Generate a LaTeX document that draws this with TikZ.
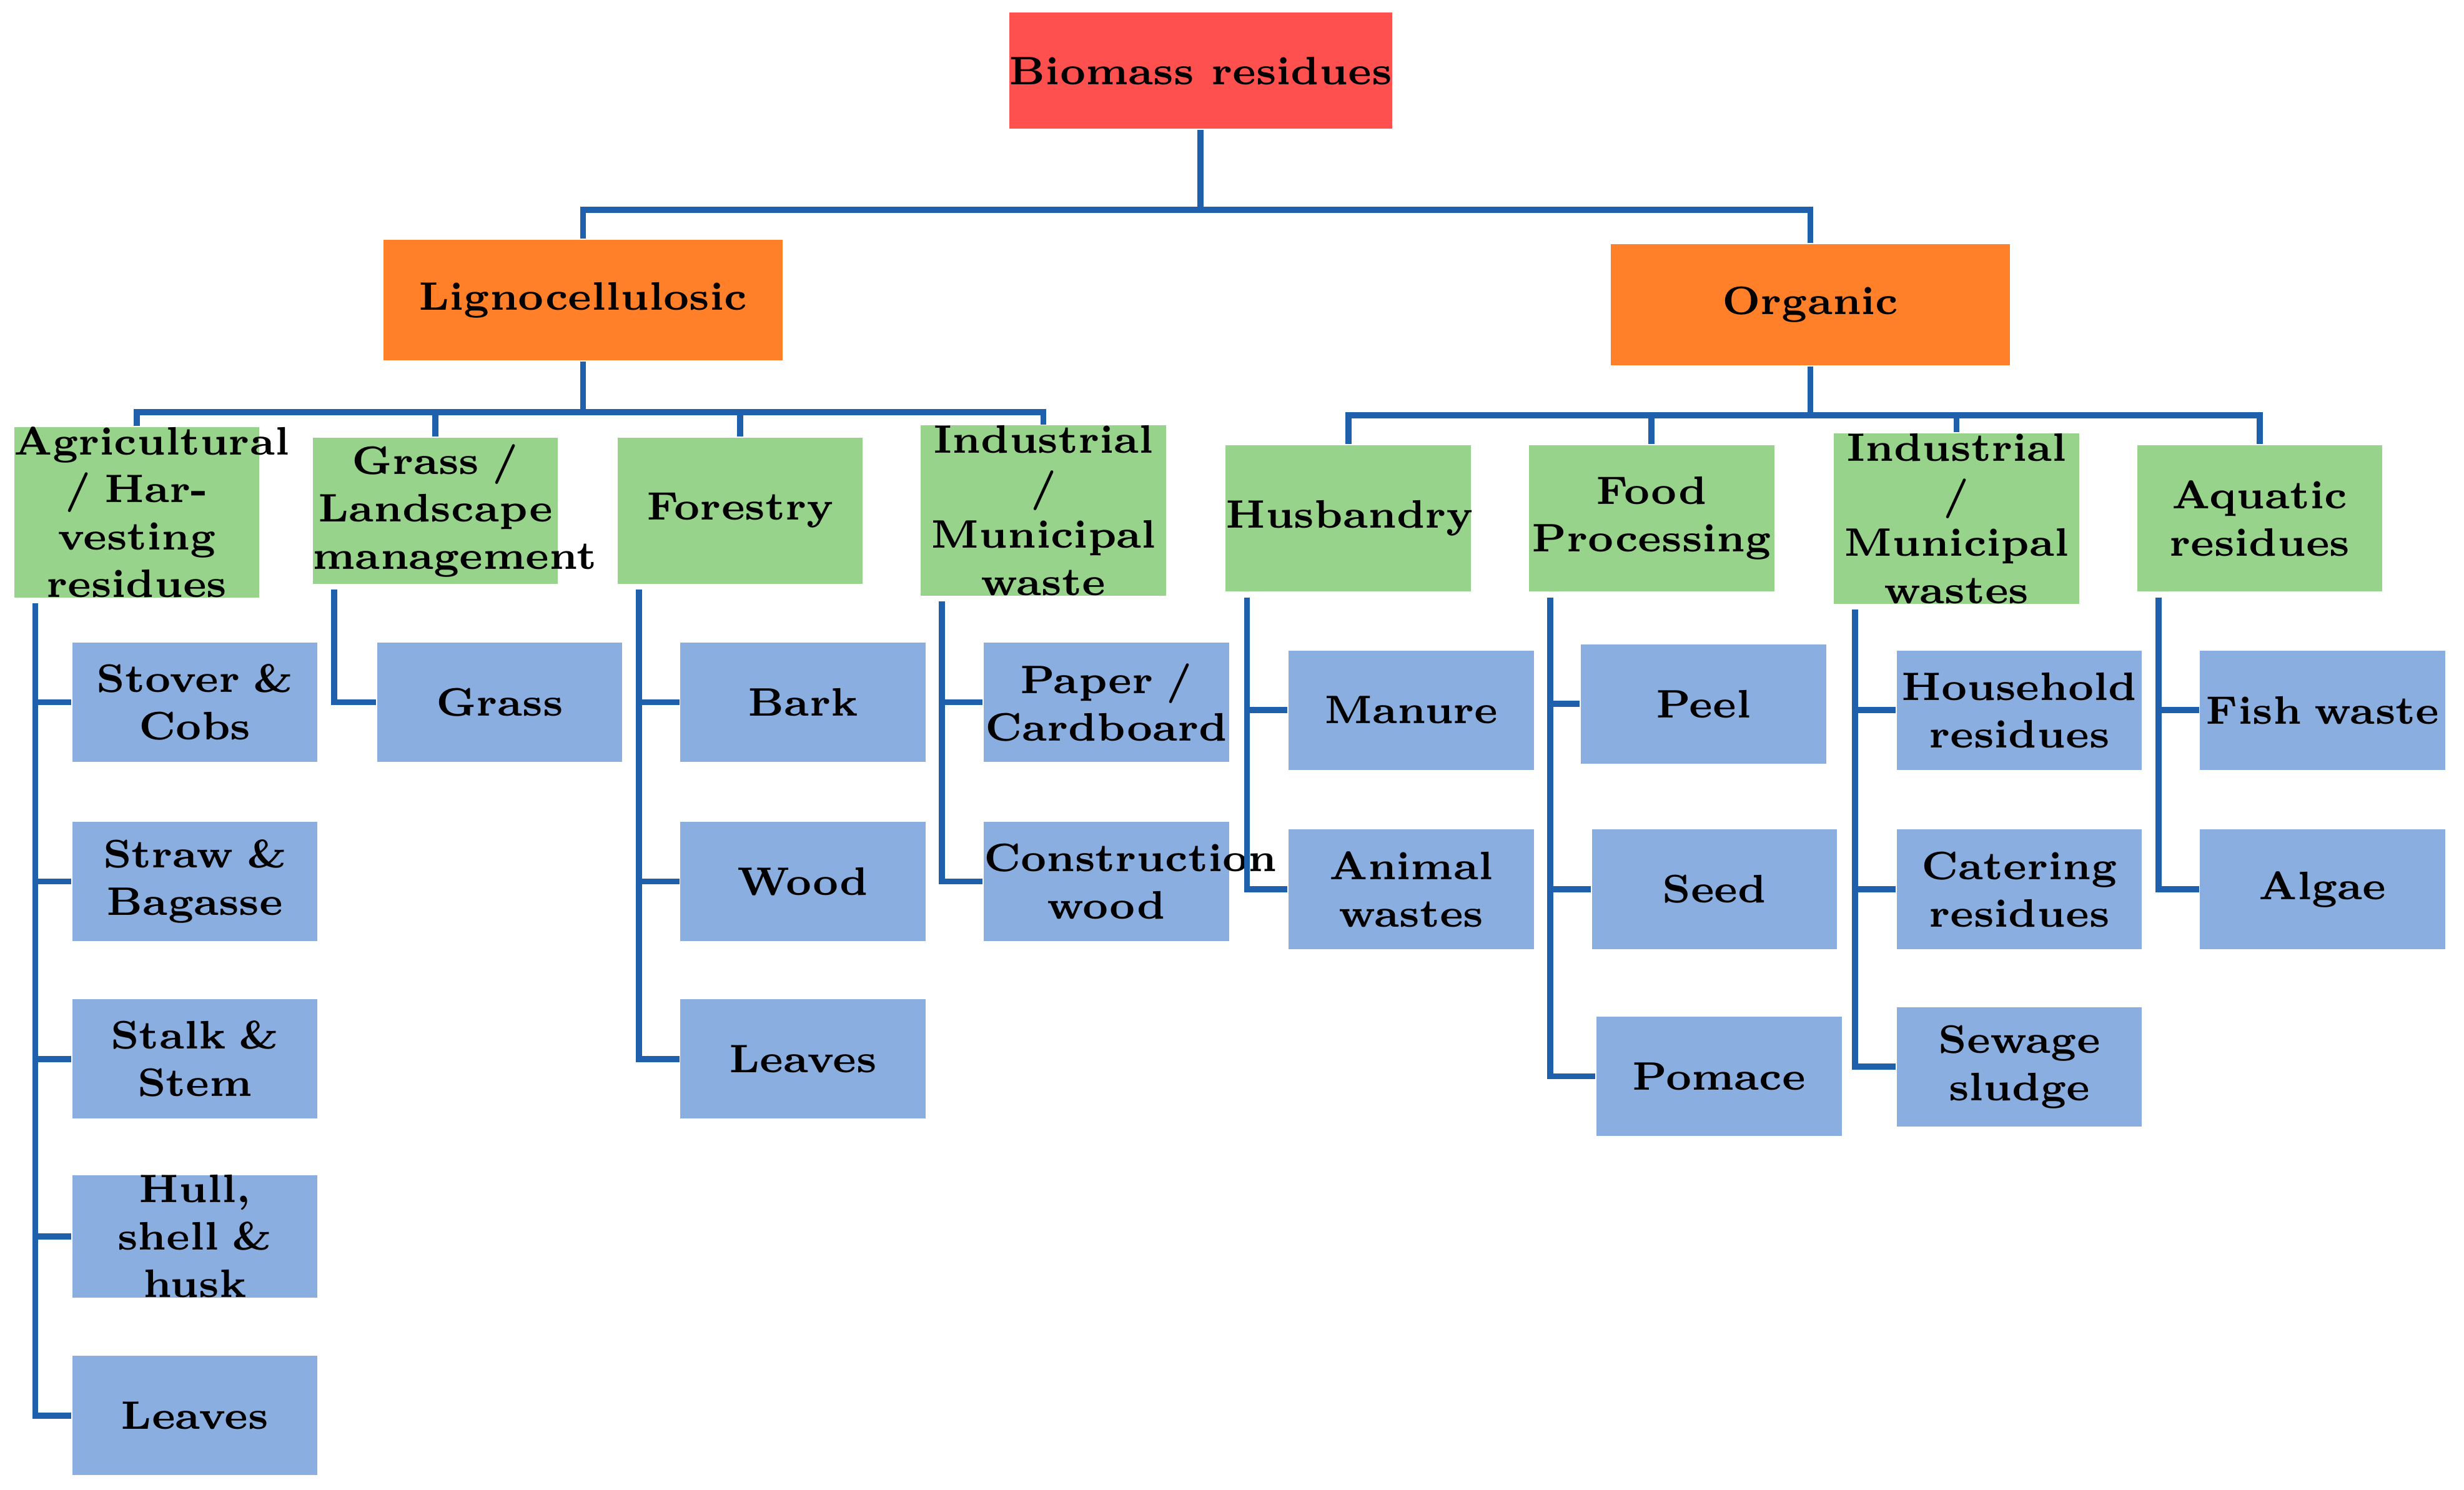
\documentclass[tikz,border=0pt]{standalone}
\usetikzlibrary{positioning}
\definecolor{rootred}{HTML}{FF5050}
\definecolor{catorange}{HTML}{FF8028}
\definecolor{subgreen}{HTML}{98D38C}
\definecolor{leafblue}{HTML}{8AAEDF}
\definecolor{linkblue}{HTML}{1F60AC}
\begin{document}
\begin{tikzpicture}[
  box/.style={draw=none,align=center,inner sep=0pt,
    font=\fontsize{7.2}{8.6}\selectfont\bfseries},
  rootbox/.style={box,fill=rootred,minimum width=2.42cm,minimum height=.74cm},
  catbox/.style={box,fill=catorange,minimum width=2.54cm,minimum height=.77cm},
  subbox/.style={box,fill=subgreen,text width=1.56cm,minimum height=.93cm},
  leafbox/.style={box,fill=leafblue,text width=1.56cm,minimum height=.76cm},
  link/.style={draw=linkblue,line width=1.1pt}]
  \useasboundingbox (0,0) rectangle (15.68,-9.48);
  % top levels
  \node[rootbox] (root) at (7.64,-.45) {Biomass residues};
  \node[catbox] (lig) at (3.71,-1.91) {Lignocellulosic};
  \node[catbox] (org) at (11.52,-1.94) {Organic};
  \draw[link] (root.south) -- ++(0,-.51) -| (lig.north);
  \draw[link] (root.south) -- ++(0,-.51) -| (org.north);
  % second level
  \node[subbox] (agri) at (.87,-3.26) {Agricultural\\/ Harvesting\\residues};
  \node[subbox] (grass) at (2.77,-3.25) {Grass /\\Landscape\\management};
  \node[subbox] (forest) at (4.71,-3.25) {Forestry};
  \node[subbox] (indm) at (6.64,-3.25) {Industrial /\\Municipal\\waste};
  \node[subbox] (husb) at (8.58,-3.30) {Husbandry};
  \node[subbox] (food) at (10.51,-3.30) {Food\\Processing};
  \node[subbox] (indw) at (12.45,-3.30) {Industrial /\\Municipal\\wastes};
  \node[subbox] (aqua) at (14.38,-3.30) {Aquatic\\residues};
  \foreach \s in {agri,grass,forest,indm}
    \draw[link] (lig.south) -- ++(0,-.32) -| (\s.north);
  \foreach \s in {husb,food,indw,aqua}
    \draw[link] (org.south) -- ++(0,-.31) -| (\s.north);
  % leaves
  \node[leafbox] (stover) at (1.24,-4.47) {Stover \&\\Cobs};
  \node[leafbox] (straw) at (1.24,-5.61) {Straw \&\\Bagasse};
  \node[leafbox] (stalk) at (1.24,-6.74) {Stalk \&\\Stem};
  \node[leafbox] (hull) at (1.24,-7.87) {Hull, shell \&\\husk};
  \node[leafbox] (leafa) at (1.24,-9.01) {Leaves};
  \node[leafbox] (grassl) at (3.18,-4.47) {Grass};
  \node[leafbox] (bark) at (5.11,-4.47) {Bark};
  \node[leafbox] (wood) at (5.11,-5.61) {Wood};
  \node[leafbox] (leafb) at (5.11,-6.74) {Leaves};
  \node[leafbox] (paper) at (7.04,-4.47) {Paper /\\Cardboard};
  \node[leafbox] (constr) at (7.04,-5.61) {Construction\\wood};
  \node[leafbox] (manure) at (8.98,-4.52) {Manure};
  \node[leafbox] (animal) at (8.98,-5.66) {Animal\\wastes};
  \node[leafbox] (peel) at (10.84,-4.48) {Peel};
  \node[leafbox] (seed) at (10.91,-5.66) {Seed};
  \node[leafbox] (pomace) at (10.94,-6.85) {Pomace};
  \node[leafbox] (house) at (12.85,-4.52) {Household\\residues};
  \node[leafbox] (cater) at (12.85,-5.66) {Catering\\residues};
  \node[leafbox] (sewage) at (12.85,-6.79) {Sewage\\sludge};
  \node[leafbox] (fish) at (14.78,-4.52) {Fish waste};
  \node[leafbox] (algae) at (14.78,-5.66) {Algae};
  \foreach \p/\c in {agri/stover,agri/straw,agri/stalk,agri/hull,agri/leafa,
      grass/grassl,forest/bark,forest/wood,forest/leafb,indm/paper,indm/constr,
      husb/manure,husb/animal,food/peel,food/seed,food/pomace,
      indw/house,indw/cater,indw/sewage,aqua/fish,aqua/algae}
    \draw[link] ([xshift=-.645cm,yshift=-.03cm]\p.south) |- (\c.west);
\end{tikzpicture}
\end{document}
